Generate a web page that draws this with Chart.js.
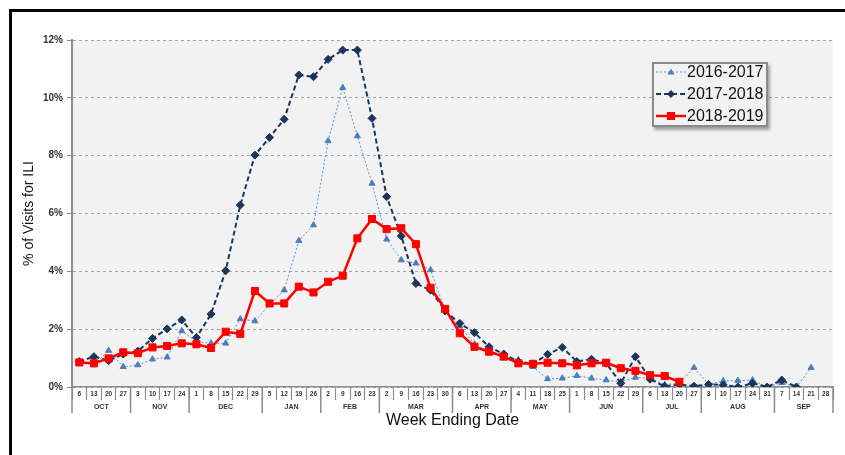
<!DOCTYPE html>
<html><head><meta charset="utf-8">
<script src="https://cdn.jsdelivr.net/npm/chart.js@4.4.1/dist/chart.umd.min.js"></script>
<style>
html,body{margin:0;padding:0;background:#fff;}
#wrap{position:relative;width:845px;height:455px;overflow:hidden;}
canvas{position:absolute;left:0;top:0;}
#frame{position:absolute;left:9px;top:9px;right:-10px;bottom:-10px;border-left:3px solid #000;border-top:3px solid #000;pointer-events:none;}
#legend{position:absolute;left:652px;top:62px;width:112px;height:61px;border:2px solid #8a8a8a;background:#f2f2f2;box-shadow:2px 3px 3px rgba(0,0,0,0.35);font:16px Arial,"Liberation Sans",sans-serif;color:#111;}
.row{position:absolute;left:2px;height:18px;display:flex;align-items:center;white-space:nowrap;}
.row svg{margin-right:1px;}
</style></head>
<body><div id="wrap"><canvas id="c" width="845" height="455"></canvas><div id="frame"></div><div id="legend"></div></div>
<script>
const weekLabels = ['6','13','20','27','3','10','17','24','1','8','15','22','29','5','12','19','26','2','9','16','23','2','9','16','23','30','6','13','20','27','4','11','18','25','1','8','15','22','29','6','13','20','27','3','10','17','24','31','7','14','21','28'];
const monthNames = ['OCT','NOV','DEC','JAN','FEB','MAR','APR','MAY','JUN','JUL','AUG','SEP'];
const monthWeeks = [4,4,5,4,4,5,4,4,5,4,5,4];
const yTicks = [0,2,4,6,8,10,12];
const seriesNames = ['2016-2017','2017-2018','2018-2019'];
const ili2016_17 = [0.88,0.76,1.26,0.70, 0.76,0.96,1.03,1.94, 1.57,1.51,1.51,2.35,2.28, 2.85,3.35,5.06,5.60, 8.51,10.35,8.68,7.04, 5.11,4.39,4.28,4.05,2.64, 2.10,1.48,1.25,1.10, 0.93,0.70,0.28,0.30, 0.39,0.30,0.24,0.18,0.33, 0.30,0.08,0.13,0.67, 0.10,0.21,0.22,0.24,0.00, 0.15,0.00,0.67,null];
const ili2017_18 = [0.88,1.05,0.91,1.14, 1.24,1.68,2.01,2.32, 1.71,2.52,4.02,6.29,8.02, 8.63,9.26,10.79,10.73, 11.33,11.65,11.65,9.29, 6.58,5.22,3.58,3.35,2.63, 2.20,1.88,1.39,1.14, 0.88,0.80,1.13,1.37, 0.88,0.96,0.82,0.13,1.05, 0.27,0.02,0.09,0.03, 0.09,0.07,0.00,0.13,0.00, 0.24,0.00,null,null];
const ili2018_19 = [0.85,0.82,0.99,1.20, 1.17,1.37,1.42,1.51, 1.48,1.35,1.91,1.84,3.32, 2.89,2.89,3.47,3.27, 3.64,3.85,5.14,5.81, 5.46,5.49,4.94,3.43,2.70, 1.86,1.39,1.22,1.05, 0.82,0.80,0.84,0.82, 0.75,0.82,0.84,0.65,0.56, 0.41,0.38,0.18,null, null,null,null,null,null, null,null,null,null];

const styles = [
  {color:'#5f8fd0', point:'#4a7ebb', width:1, dash:[2,2], style:'triangle', radius:3.5, order:3},
  {color:'#1b365d', point:'#1b365d', width:2, dash:[5,3], style:'rectRot', radius:4, order:2},
  {color:'#ff0000', point:'#ff0000', width:2.5, dash:[], style:'rect', radius:5, order:1}
];
const seriesData = [ili2016_17, ili2017_18, ili2018_19];

const bgPlugin = {
  id:'bg',
  beforeDraw(chart){
    const {ctx, chartArea:a} = chart;
    ctx.save(); ctx.fillStyle='#f2f2f2';
    ctx.fillRect(a.left,a.top,a.right-a.left,a.bottom-a.top);
    ctx.restore();
  }
};
const monthPlugin = {
  id:'months',
  afterDraw(chart){
    const x = chart.scales.x, ctx = chart.ctx;
    const w = x.getPixelForValue(1) - x.getPixelForValue(0);
    const edge = i => x.getPixelForValue(i) - w/2;
    const top = chart.chartArea.bottom;
    ctx.save();
    ctx.strokeStyle='#8c8c8c'; ctx.lineWidth=1.5;
    ctx.font='bold 7px Arial'; ctx.fillStyle='#333';
    ctx.textAlign='center'; ctx.textBaseline='middle';
    let idx = 0;
    for (let m=0; m<monthNames.length; m++){
      const s = idx, e = idx + monthWeeks[m];
      const x0 = edge(s), x1 = edge(e);
      ctx.beginPath(); ctx.moveTo(x0,top); ctx.lineTo(x0,top+26); ctx.stroke();
      ctx.fillText(monthNames[m], (x0+x1)/2, top+20);
      idx = e;
    }
    const xe = edge(idx);
    ctx.beginPath(); ctx.moveTo(xe,top); ctx.lineTo(xe,top+26); ctx.stroke();
    ctx.restore();
  }
};

const chart = new Chart(document.getElementById('c'), {
  type:'line',
  data:{
    labels: weekLabels,
    datasets: seriesNames.map((n,i)=>({
      label:n, data:seriesData[i], borderColor:styles[i].color, borderWidth:styles[i].width,
      borderDash:styles[i].dash, pointStyle:styles[i].style, pointRadius:styles[i].radius,
      pointBackgroundColor:styles[i].point, pointBorderColor:styles[i].point, pointBorderWidth:1,
      tension:0, fill:false, spanGaps:false, order:styles[i].order
    }))
  },
  options:{
    responsive:false, animation:false, devicePixelRatio:1,
    layout:{padding:{left:0, top:40, right:12, bottom:0}},
    plugins:{legend:{display:false}, tooltip:{enabled:false}},
    scales:{
      x:{
        type:'category', offset:true,
        grid:{offset:true, drawOnChartArea:false, drawTicks:true, tickLength:13, tickColor:'#8c8c8c', tickWidth:1.2, color:'#8c8c8c'},
        border:{color:'#8c8c8c', width:1.5},
        ticks:{autoSkip:false, maxRotation:0, minRotation:0, padding:-10, font:{family:'Arial', size:6.5, weight:'bold'}, color:'#333'},
        title:{display:true, text:'Week Ending Date', font:{family:'Arial', size:16}, color:'#111', padding:{top:0, bottom:25}},
        afterFit(s){ s.height = 68; }
      },
      y:{
        min:0, max:12,
        afterBuildTicks(s){ s.ticks = yTicks.map(v=>({value:v})); },
        ticks:{callback:v=>v+'%', font:{family:'Arial', size:10, weight:'bold'}, color:'#333', padding:4},
        grid:{color:'#a6a6a6', lineWidth:1, tickLength:5, tickColor:'#8c8c8c', tickBorderDash:[]},
        border:{color:'#8c8c8c', width:2, dash:[3,3]},
        title:{display:true, text:'% of Visits for ILI', font:{family:'Arial', size:14}, color:'#111', padding:{top:21, bottom:0}},
        afterFit(s){ s.width = 72; }
      }
    }
  },
  plugins:[bgPlugin, monthPlugin]
});

// legend
const leg = document.getElementById('legend');
const markerSvg = st => {
  const c = st.point;
  let m = '';
  if (st.style==='triangle') m = `<polygon points="15,2.5 18.5,8.5 11.5,8.5" fill="${c}"/>`;
  else if (st.style==='rectRot') m = `<polygon points="15,2 19,6 15,10 11,6" fill="${c}"/>`;
  else m = `<rect x="11" y="2" width="8" height="8" fill="${c}"/>`;
  return `<svg width="30" height="12"><line x1="0" y1="6" x2="30" y2="6" stroke="${st.color}" stroke-width="${st.width}" stroke-dasharray="${st.dash.join(',')}"/>${m}</svg>`;
};
seriesNames.forEach((n,i)=>{
  const r = document.createElement('div');
  r.className='row'; r.style.top = (-1 + i*22) + 'px';
  r.innerHTML = markerSvg(styles[i]) + '<span>' + n + '</span>';
  leg.appendChild(r);
});
</script>
</body></html>
